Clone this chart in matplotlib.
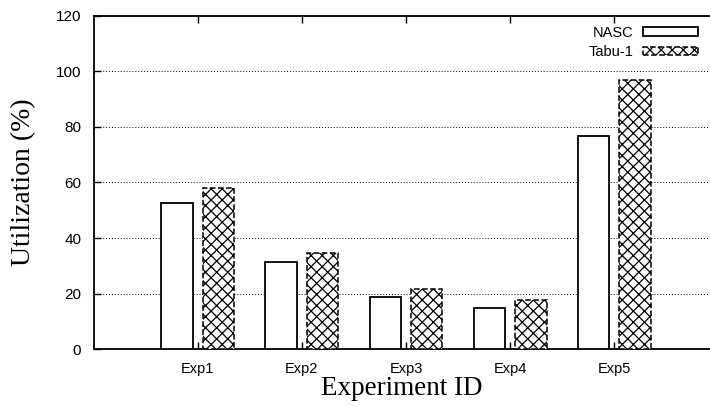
import numpy as np
import matplotlib.pyplot as plt

experiments = ['Exp1', 'Exp2', 'Exp3', 'Exp4', 'Exp5']
nasc = [52.5, 31.3, 18.8, 14.8, 76.7]
tabu = [58.0, 34.5, 21.6, 17.5, 97.0]
yticks = [0, 20, 40, 60, 80, 100, 120]

plt.rcParams['hatch.linewidth'] = 0.9
fig = plt.figure(figsize=(7.1, 4.07), dpi=100)
ax = fig.add_axes([0.132, 0.1425, 0.868, 0.8182])

x = np.arange(1, len(experiments) + 1)
w = 0.3
ax.bar(x - 0.2, nasc, w, facecolor='white', edgecolor='black', linewidth=1.3,
       label='NASC', zorder=3)
ax.bar(x + 0.2, tabu, w, facecolor='white', edgecolor='black', linewidth=1.1,
       linestyle='--', hatch='xxx', label='Tabu-1', zorder=3)

ax.set_xlim(0, 5.92)
ax.set_ylim(0, 120)
ax.set_yticks(yticks)
ax.set_xticks(x)
ax.set_xticklabels(experiments, fontsize=10.5, family='Liberation Sans')
for lab in ax.get_yticklabels():
    lab.set_family('Liberation Sans')
    lab.set_fontsize(11)
ax.tick_params(direction='in', length=5, width=1, top=True, right=False)
ax.tick_params(axis='x', pad=9)
ax.tick_params(axis='y', pad=9)
ax.yaxis.grid(True, linestyle=(0, (1, 2)), color='black', linewidth=0.7)
ax.set_axisbelow(True)
for s in ['left', 'bottom', 'top']:
    ax.spines[s].set_linewidth(1.3)
ax.spines['right'].set_visible(False)

ax.set_xlabel('Experiment ID', family='Liberation Serif', fontsize=19.5, labelpad=0)
ax.set_ylabel('Utilization (%)', family='Liberation Serif', fontsize=20, labelpad=14)

leg = fig.legend(*ax.get_legend_handles_labels(), loc='upper right',
                 bbox_to_anchor=(698 / 710, 1 - 26 / 407), frameon=False,
                 markerfirst=False, handlelength=3.8, handleheight=0.55,
                 handletextpad=0.6, labelspacing=0.35, borderaxespad=0, borderpad=0,
                 prop={'family': 'Liberation Sans', 'size': 10.5})

fig.savefig('out.png', dpi=100)
